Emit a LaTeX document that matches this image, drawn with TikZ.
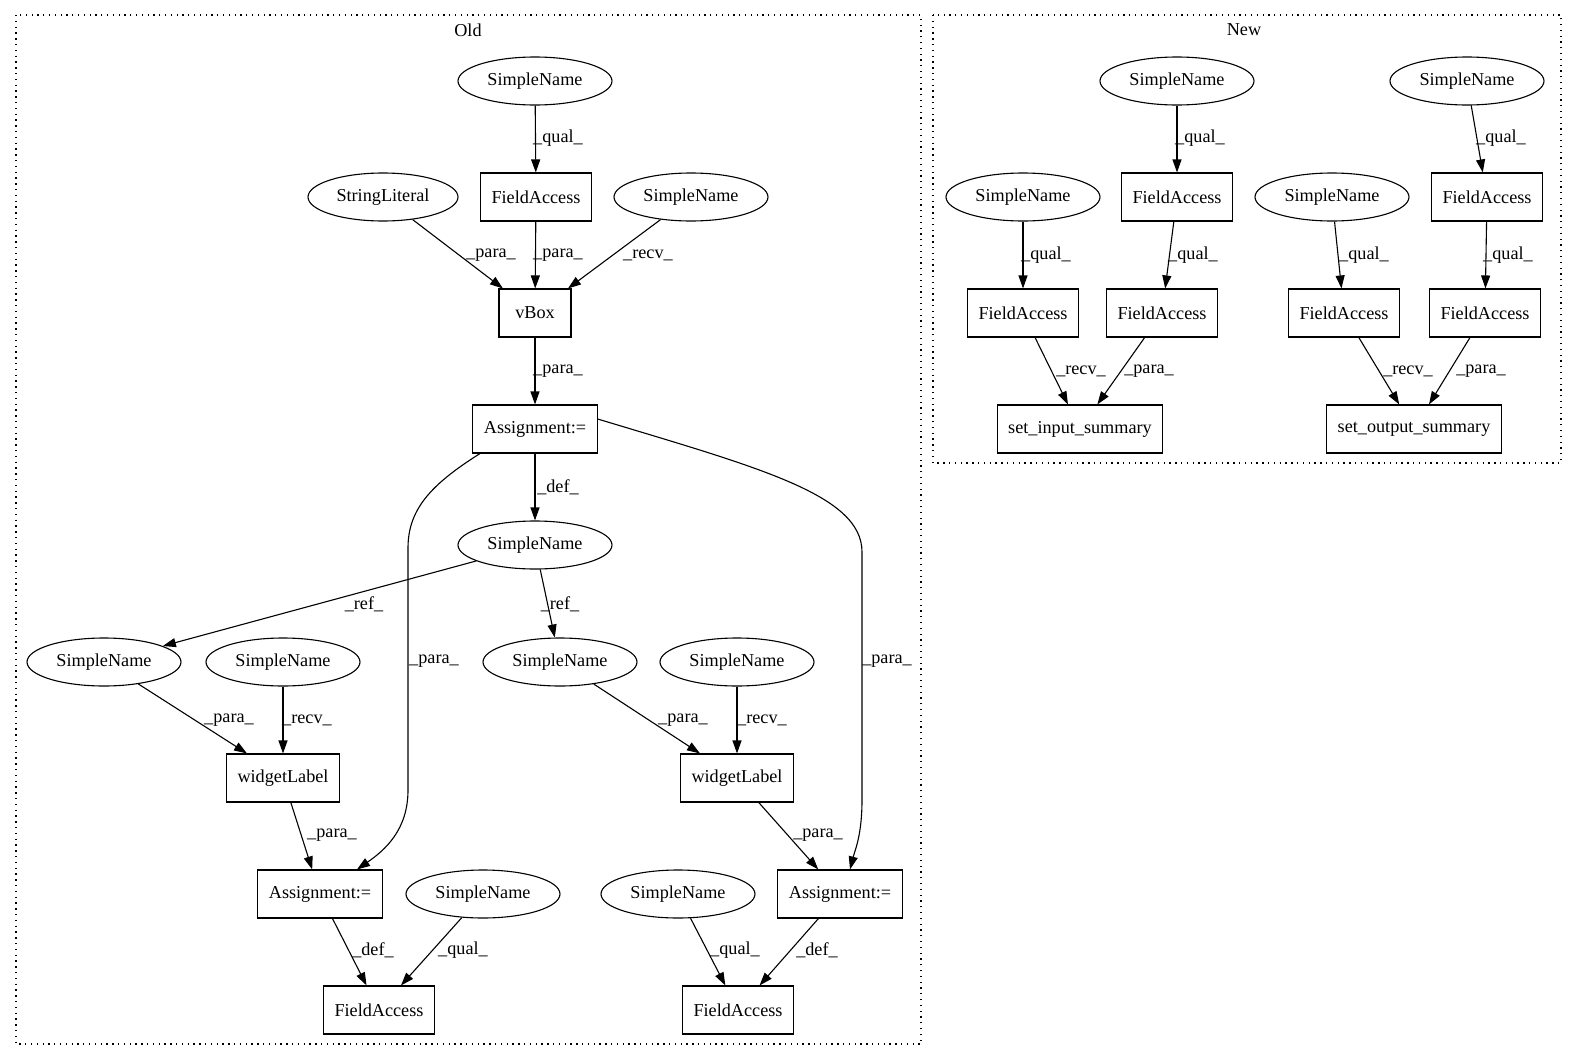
\documentclass[tikz,border=0pt]{standalone}
\usepackage{fontspec}
\setmainfont{Liberation Serif}
\usetikzlibrary{arrows.meta,shapes.geometric}
\begin{document}
\begin{tikzpicture}[x=1pt,y=-1pt,
  every node/.style={font=\fontsize{18.2}{20}\selectfont},
  ell/.style={draw,ellipse,line width=1.1pt,minimum width=154,minimum height=48,inner sep=0},
  box/.style={draw,rectangle,line width=1.1pt,minimum width=72,minimum height=48,inner xsep=11,inner ysep=0},
  e/.style={line width=1.1pt,-{Triangle[length=13pt,width=9pt]}},
  lbl/.style={inner sep=0},
  clus/.style={line width=1.2pt,dash pattern=on 1.3pt off 4.5pt}]
\useasboundingbox (0,0) rectangle (1572,1060);
% clusters
\draw[clus] (16,15) rectangle (921,1044);
\draw[clus] (933,15) rectangle (1561,463);
\node[lbl] (tOld) at (468,30) {Old};
\node[lbl] (tNew) at (1244,30) {New};
% Old nodes
\node[ell] (snTop) at (535,81) {SimpleName};
\node[ell,minimum width=150] (strl) at (383,197) {StringLiteral};
\node[box] (fa0) at (536,197) {FieldAccess};
\node[ell] (snR) at (691,197) {SimpleName};
\node[box] (vbox) at (535,313) {vBox};
\node[box] (asg) at (535,429) {Assignment:=};
\node[ell] (snMid) at (535,545) {SimpleName};
\node[ell] (snL1) at (104,662) {SimpleName};
\node[ell] (snL2) at (283,662) {SimpleName};
\node[ell] (snR1) at (560,662) {SimpleName};
\node[ell] (snR2) at (737,662) {SimpleName};
\node[box] (wL) at (283,778) {widgetLabel};
\node[box] (wR) at (737,778) {widgetLabel};
\node[box] (aL) at (320,894) {Assignment:=};
\node[ell] (snLq) at (483,894) {SimpleName};
\node[ell] (snRq) at (678,894) {SimpleName};
\node[box] (aR) at (840,894) {Assignment:=};
\node[box] (faL) at (379,1010) {FieldAccess};
\node[box] (faR) at (738,1010) {FieldAccess};
% Old edges
\draw[e] (snTop) -- (fa0) node[lbl,at={(558,138)}] {\_qual\_};
\draw[e] (strl) -- (vbox) node[lbl,at={(491,255)}] {\_para\_};
\draw[e] (fa0) -- (vbox) node[lbl,at={(558,255)}] {\_para\_};
\draw[e] (snR) -- (vbox) node[lbl,at={(648,255)}] {\_recv\_};
\draw[e] (vbox) -- (asg) node[lbl,at={(558,371)}] {\_para\_};
\draw[e] (asg) -- (snMid) node[lbl,at={(558,487)}] {\_def\_};
\draw[e] ([xshift=-55]asg.south) .. controls (430,485) and (408,510) .. (408,548) -- (408,790) .. controls (408,830) and (385,850) .. ([xshift=37]aL.north) node[lbl,at={(434,661)}] {\_para\_};
\draw[e] ([yshift=10]asg.east) .. controls (760,468) and (862,495) .. (862,552) -- (862,800) .. controls (862,835) and (855,850) .. ([xshift=10]aR.north) node[lbl,at={(887,661)}] {\_para\_};
\draw[e] (snMid) -- (snL1) node[lbl,at={(364,604)}] {\_ref\_};
\draw[e] (snMid) -- (snR1) node[lbl,at={(560,604)}] {\_ref\_};
\draw[e] (snL1) -- ([xshift=-36]wL.north) node[lbl,at={(229,720)}] {\_para\_};
\draw[e] (snL2) -- (wL) node[lbl,at={(307,720)}] {\_recv\_};
\draw[e] (snR1) -- ([xshift=-37]wR.north) node[lbl,at={(683,720)}] {\_para\_};
\draw[e] (snR2) -- (wR) node[lbl,at={(762,720)}] {\_recv\_};
\draw[e] (wL) -- (aL) node[lbl,at={(332,835)}] {\_para\_};
\draw[e] (wR) -- (aR) node[lbl,at={(818,835)}] {\_para\_};
\draw[e] (aL) -- (faL) node[lbl,at={(373,950)}] {\_def\_};
\draw[e] (snLq) -- (faL) node[lbl,at={(463,950)}] {\_qual\_};
\draw[e] (snRq) -- (faR) node[lbl,at={(735,950)}] {\_qual\_};
\draw[e] (aR) -- (faR) node[lbl,at={(817,950)}] {\_def\_};
% New nodes
\node[ell] (nsA) at (1177,81) {SimpleName};
\node[ell] (nsB) at (1467,81) {SimpleName};
\node[ell] (nsC) at (1023,197) {SimpleName};
\node[box] (nfA) at (1177,197) {FieldAccess};
\node[ell] (nsD) at (1332,197) {SimpleName};
\node[box] (nfB) at (1487,197) {FieldAccess};
\node[box] (nfC) at (1023,313) {FieldAccess};
\node[box] (nfD) at (1162,313) {FieldAccess};
\node[box] (nfE) at (1344,313) {FieldAccess};
\node[box] (nfF) at (1485,313) {FieldAccess};
\node[box] (sin) at (1080,429) {set\_input\_summary};
\node[box] (sout) at (1414,429) {set\_output\_summary};
% New edges
\draw[e] (nsA) -- (nfA) node[lbl,at={(1200,138)}] {\_qual\_};
\draw[e] (nsB) -- (nfB) node[lbl,at={(1501,138)}] {\_qual\_};
\draw[e] (nsC) -- (nfC) node[lbl,at={(1046,255)}] {\_qual\_};
\draw[e] (nfA) -- (nfD) node[lbl,at={(1193,255)}] {\_qual\_};
\draw[e] (nsD) -- (nfE) node[lbl,at={(1364,255)}] {\_qual\_};
\draw[e] (nfB) -- (nfF) node[lbl,at={(1508,255)}] {\_qual\_};
\draw[e] (nfC) -- (sin) node[lbl,at={(1081,371)}] {\_recv\_};
\draw[e] (nfD) -- (sin) node[lbl,at={(1149,371)}] {\_para\_};
\draw[e] (nfE) -- (sout) node[lbl,at={(1408,371)}] {\_recv\_};
\draw[e] (nfF) -- (sout) node[lbl,at={(1481,371)}] {\_para\_};
\end{tikzpicture}
\end{document}
